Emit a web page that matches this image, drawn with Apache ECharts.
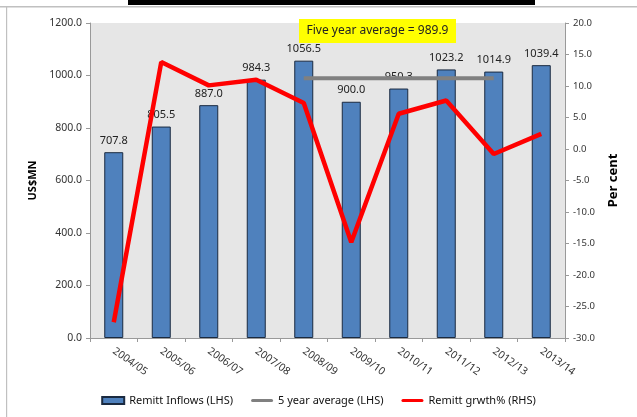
<!DOCTYPE html>
<html><head><meta charset="utf-8">
<script src="https://cdn.jsdelivr.net/npm/echarts@6/dist/echarts.min.js"></script>
<style>html,body{margin:0;padding:0;background:#fff}#c{width:637px;height:417px}</style>
</head><body><div id="c"></div>
<script>
const categories = ['2004/05','2005/06','2006/07','2007/08','2008/09','2009/10','2010/11','2011/12','2012/13','2013/14'];
const inflows = [707.8, 805.5, 887.0, 984.3, 1056.5, 900.0, 950.3, 1023.2, 1014.9, 1039.4];
const fiveYearAvg = [null, null, null, null, 989.9, 989.9, 989.9, 989.9, 989.9, null];
const growth = [-27.5, 13.8, 10.1, 11.0, 7.3, -14.8, 5.6, 7.7, -0.8, 2.4];
const leftTicks = [0, 1200, 200];
const rightTicks = [-30, 20, 5];
const avgNote = 'Five year average = 989.9';

const font = 'Noto Sans';
const lineIcon = 'path://M1.5,0L20.5,0A1.5,1.5,0,0,1,20.5,3L1.5,3A1.5,1.5,0,0,1,1.5,0Z';
const chart = echarts.init(document.getElementById('c'));
chart.setOption({
  animation: false,
  textStyle: {fontFamily: font},
  grid: {left: 90, right: 72, top: 23, bottom: 79, show: true, backgroundColor: '#e6e6e6', borderWidth: 0},
  graphic: [
    {type: 'rect', shape: {x: 0, y: 6, width: 637, height: 1.5}, style: {fill: '#c0c0c0'}},
    {type: 'rect', shape: {x: 6, y: 6, width: 1.2, height: 411}, style: {fill: '#c0c0c0'}},
    {type: 'rect', shape: {x: 128, y: 0, width: 407, height: 5}, style: {fill: '#000'}},
    {type: 'rect', shape: {x: 299, y: 19, width: 157, height: 24}, style: {fill: '#ffff00'}, z: 10},
    {type: 'text', x: 377.5, y: 31, z: 11, style: {text: avgNote, fill: '#222', font: '12px "Noto Sans"', align: 'center', verticalAlign: 'middle'}}
  ],
  legend: {
    bottom: 6, left: 'center', itemWidth: 22, itemHeight: 7, itemGap: 18,
    textStyle: {fontSize: 11, color: '#111', fontFamily: font},
    data: [
      {name: 'Remitt Inflows (LHS)', icon: 'rect'},
      {name: '5 year average (LHS)', icon: lineIcon},
      {name: 'Remitt grwth% (RHS)', icon: lineIcon}
    ]
  },
  xAxis: {
    type: 'category', data: categories,
    axisLine: {lineStyle: {color: '#999'}},
    axisTick: {show: true, alignWithLabel: false, length: 4, lineStyle: {color: '#999'}},
    axisLabel: {rotate: -35, fontSize: 10.5, color: '#333', margin: 12, interval: 0}
  },
  yAxis: [
    {type: 'value', min: leftTicks[0], max: leftTicks[1], interval: leftTicks[2], name: 'US$MN',
     nameLocation: 'middle', nameGap: 50, nameRotate: 90,
     nameTextStyle: {fontWeight: 'bold', fontSize: 11, color: '#000'},
     axisLine: {show: true, lineStyle: {color: '#999'}},
     axisTick: {show: true, length: 4, lineStyle: {color: '#999'}},
     splitLine: {show: false},
     axisLabel: {formatter: v => v.toFixed(1), fontSize: 10.5, color: '#333'}},
    {type: 'value', min: rightTicks[0], max: rightTicks[1], interval: rightTicks[2], name: 'Per cent',
     nameLocation: 'middle', nameGap: 42, nameRotate: 90,
     nameTextStyle: {fontWeight: 'bold', fontSize: 13, color: '#000'},
     axisLine: {show: true, lineStyle: {color: '#999'}},
     axisTick: {show: true, length: 4, lineStyle: {color: '#999'}},
     splitLine: {show: false},
     axisLabel: {formatter: v => v.toFixed(1), fontSize: 9.5, color: '#333'}}
  ],
  series: [
    {name: 'Remitt Inflows (LHS)', type: 'bar', data: inflows, barWidth: '40%',
     itemStyle: {color: '#4f81bd', borderColor: '#1a2a40', borderWidth: 1},
     label: {show: true, position: 'top', formatter: p => p.value.toFixed(1), fontSize: 11, color: '#222', distance: 6}},
    {name: '5 year average (LHS)', type: 'line', data: fiveYearAvg, symbol: 'none',
     lineStyle: {color: '#808080', width: 4}, itemStyle: {color: '#808080'}, z: 3},
    {name: 'Remitt grwth% (RHS)', type: 'line', yAxisIndex: 1, data: growth, symbol: 'none',
     lineStyle: {color: '#ff0000', width: 4.5}, itemStyle: {color: '#ff0000'}, z: 4}
  ]
});
</script></body></html>
